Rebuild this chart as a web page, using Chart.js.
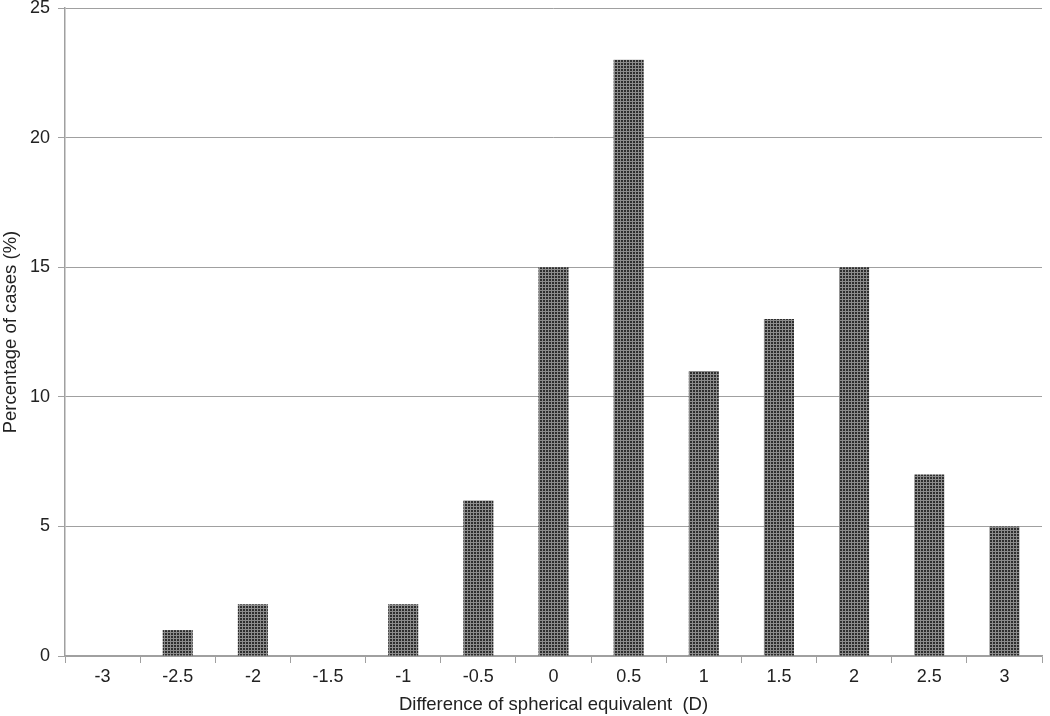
<!DOCTYPE html>
<html>
<head>
<meta charset="utf-8">
<script src="https://cdn.jsdelivr.net/npm/chart.js@4.4.1/dist/chart.umd.min.js"></script>
<style>
  html, body { margin: 0; padding: 0; background: #fff; }
  #wrap { width: 1050px; height: 716px; }
</style>
</head>
<body>
<div id="wrap"><canvas id="histChart" width="1050" height="716"></canvas></div>
<script>
// ── Data ───────────────────────────────────────────────────────
const categories = ['-3', '-2.5', '-2', '-1.5', '-1', '-0.5', '0', '0.5', '1', '1.5', '2', '2.5', '3'];
const percentages = [0, 1, 2, 0, 2, 6, 15, 23, 11, 13, 15, 7, 5];
const yTicks = [0, 5, 10, 15, 20, 25];

Chart.defaults.font.family = "'Liberation Sans', Arial, sans-serif";
Chart.defaults.color = '#222';

// dotted dark fill like the original print
function dotPattern() {
  const c = document.createElement('canvas');
  c.width = 3; c.height = 3;
  const g = c.getContext('2d');
  g.fillStyle = '#8c8c8c';
  g.fillRect(0, 0, 3, 3);
  g.fillStyle = '#2e2e2e';
  g.fillRect(0, 0, 2, 2);
  return g.createPattern(c, 'repeat');
}

const axisGray = '#a0a0a0';

new Chart(document.getElementById('histChart'), {
  type: 'bar',
  data: {
    labels: categories,
    datasets: [{
      data: percentages,
      backgroundColor: dotPattern(),
      borderWidth: 0,
      barPercentage: 0.4,
      categoryPercentage: 1.0
    }]
  },
  options: {
    responsive: false, animation: false,
    layout: { padding: { top: 0, right: 8, left: 0, bottom: 0 } },
    plugins: { legend: { display: false }, tooltip: { enabled: false } },
    scales: {
      x: {
        offset: true,
        grid: { display: true, drawOnChartArea: false, offset: true, color: axisGray, tickLength: 7 },
        border: { color: axisGray, width: 1.5 },
        ticks: { font: { size: 18 }, color: '#222', padding: 3, maxRotation: 0 },
        title: { display: true, text: 'Difference of spherical equivalent  (D)', font: { size: 18.5 }, color: '#222', padding: { top: 1, bottom: 0 } },
        afterFit: (s) => { s.height = 60; }
      },
      y: {
        min: 0, max: 25,
        afterBuildTicks: (s) => { s.ticks = yTicks.map(v => ({ value: v })); },
        grid: { color: axisGray, tickLength: 7, lineWidth: 1 },
        border: { color: axisGray, width: 1.5 },
        ticks: { font: { size: 18 }, color: '#222', padding: 8 },
        title: { display: true, text: 'Percentage of cases (%)', font: { size: 18.5 }, color: '#222', padding: { top: 0, bottom: 2 } },
        afterFit: (s) => { s.width = 65; s.paddingTop = 8; }
      }
    }
  }
});
</script>
</body>
</html>
